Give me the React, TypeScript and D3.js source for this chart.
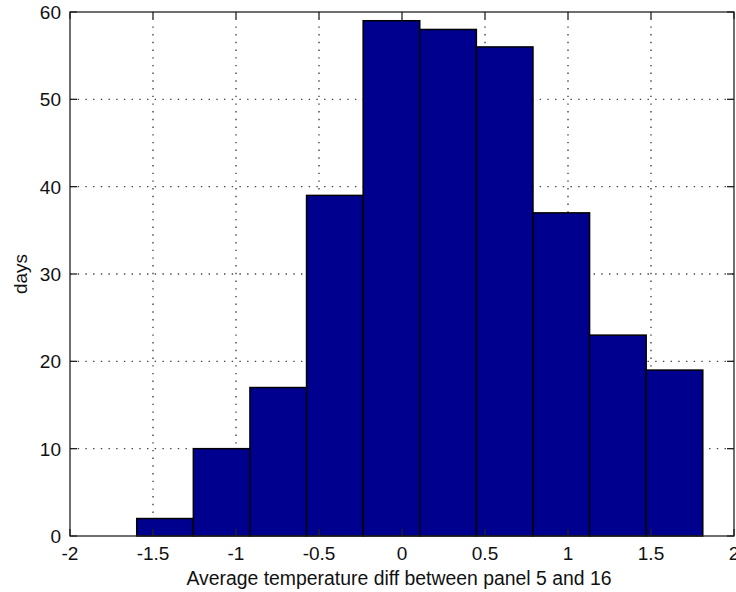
import React from 'react';
import * as d3 from 'd3';

// Histogram bins (centres) and day counts
const binCenters = [-1.4275, -1.0865, -0.7455, -0.4045, -0.0635, 0.2775, 0.6185, 0.9595, 1.3005, 1.6415];
const counts = [2, 10, 17, 39, 59, 58, 56, 37, 23, 19];
const binWidth = 0.341;

const xTicks = [-2, -1.5, -1, -0.5, 0, 0.5, 1, 1.5, 2];
const yTicks = [0, 10, 20, 30, 40, 50, 60];
const xLabel = 'Average temperature diff between panel 5 and 16';
const yLabel = 'days';

const W = 736;
const H = 592;
const M = { left: 70, right: 2, top: 12, bottom: 56 };

export default function App() {
  const x = d3.scaleLinear().domain([-2, 2]).range([M.left, W - M.right]);
  const y = d3.scaleLinear().domain([0, 60]).range([H - M.bottom, M.top]);
  const [x0, x1] = x.range();
  const [y0, y1] = y.range();
  const tickLen = 7;
  const font = "'Liberation Sans', Arial, Helvetica, sans-serif";
  const fmt = (v: number) => String(v);

  return (
    <svg
      width={W}
      height={H}
      viewBox={`0 0 ${W} ${H}`}
      style={{ position: 'absolute', left: 0, top: 0, background: '#fff' }}
      fontFamily={font}
    >
      <rect x={0} y={0} width={W} height={H} fill="#fff" />
      {/* dotted grid */}
      <g stroke="#444" strokeWidth={1.4} strokeDasharray="1.4 6.3">
        {xTicks.slice(1, -1).map((t) => (
          <line key={`gx${t}`} x1={x(t)} x2={x(t)} y1={y0} y2={y1} />
        ))}
        {yTicks.slice(1, -1).map((t) => (
          <line key={`gy${t}`} x1={x0} x2={x1} y1={y(t)} y2={y(t)} />
        ))}
      </g>
      {/* bars */}
      <g fill="#00008F" stroke="#000" strokeWidth={1.5}>
        {counts.map((c, i) => {
          const left = x(binCenters[i] - binWidth / 2);
          const right = x(binCenters[i] + binWidth / 2);
          return (
            <rect key={i} x={left} y={y(c)} width={right - left} height={y0 - y(c)} />
          );
        })}
      </g>
      {/* ticks on all four sides */}
      <g stroke="#222" strokeWidth={1.3}>
        {xTicks.map((t) => (
          <g key={`tx${t}`}>
            <line x1={x(t)} x2={x(t)} y1={y0} y2={y0 - tickLen} />
            <line x1={x(t)} x2={x(t)} y1={y1} y2={y1 + tickLen} />
          </g>
        ))}
        {yTicks.map((t) => (
          <g key={`ty${t}`}>
            <line x1={x0} x2={x0 + tickLen} y1={y(t)} y2={y(t)} />
            <line x1={x1} x2={x1 - tickLen} y1={y(t)} y2={y(t)} />
          </g>
        ))}
      </g>
      {/* axes box */}
      <rect x={x0} y={y1} width={x1 - x0} height={y0 - y1} fill="none" stroke="#222" strokeWidth={1.3} />
      {/* tick labels */}
      <g fontSize={19} fill="#111">
        {xTicks.map((t) => (
          <text key={`lx${t}`} x={x(t)} y={y0 + 24} textAnchor="middle">
            {fmt(t)}
          </text>
        ))}
        {yTicks.map((t) => (
          <text key={`ly${t}`} x={x0 - 9} y={y(t)} dy="0.36em" textAnchor="end">
            {fmt(t)}
          </text>
        ))}
      </g>
      <text x={(x0 + x1) / 2 - 3} y={585} textAnchor="middle" fontSize={19.4} fill="#111">
        {xLabel}
      </text>
      <text
        transform={`translate(27, ${(y0 + y1) / 2}) rotate(-90)`}
        textAnchor="middle"
        fontSize={19}
        fill="#111"
      >
        {yLabel}
      </text>
    </svg>
  );
}
